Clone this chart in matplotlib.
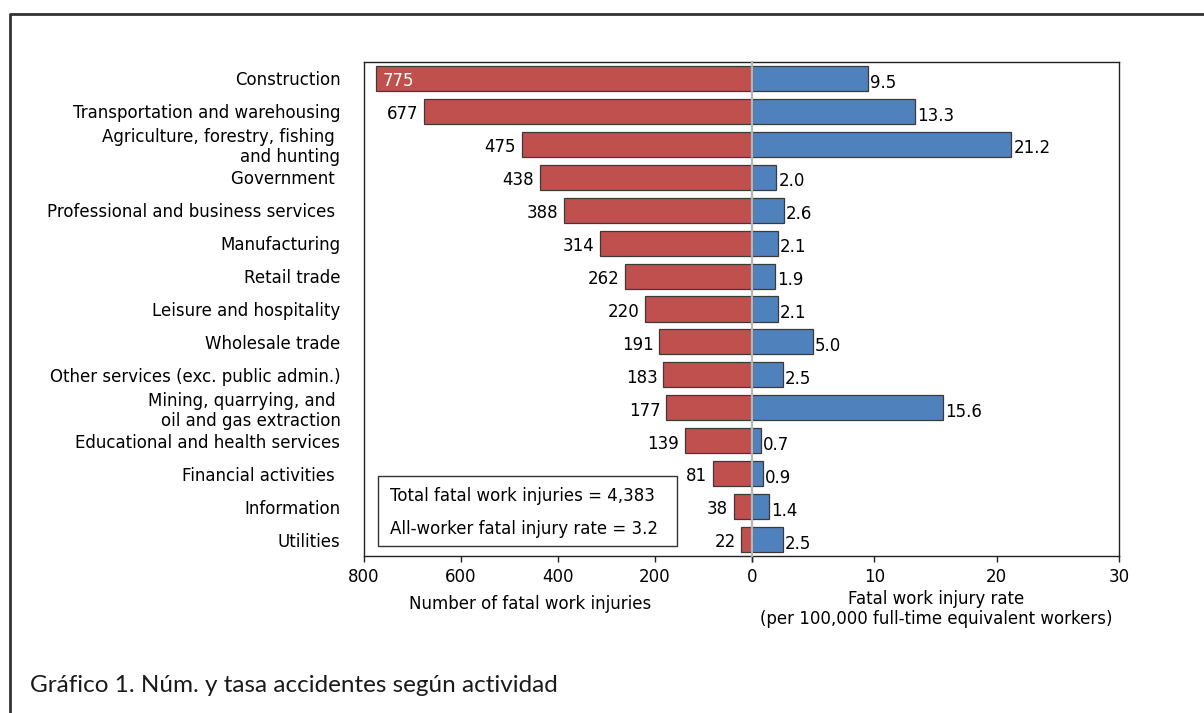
import numpy as np
import matplotlib
matplotlib.use('Agg')
import matplotlib.pyplot as plt
from matplotlib.patches import Rectangle
from matplotlib.lines import Line2D

categories = ["Construction", "Transportation and warehousing",
              "Agriculture, forestry, fishing \nand hunting", "Government ",
              "Professional and business services ", "Manufacturing",
              "Retail trade", "Leisure and hospitality", "Wholesale trade",
              "Other services (exc. public admin.)",
              "Mining, quarrying, and \noil and gas extraction",
              "Educational and health services", "Financial activities ",
              "Information", "Utilities"]
counts = [775, 677, 475, 438, 388, 314, 262, 220, 191, 183, 177, 139, 81, 38, 22]
rates = [9.5, 13.3, 21.2, 2.0, 2.6, 2.1, 1.9, 2.1, 5.0, 2.5, 15.6, 0.7, 0.9, 1.4, 2.5]
count_ticks = [800, 600, 400, 200, 0]
count_labels = ["800", "600", "400", "200", ""]
rate_ticks = [0, 10, 20, 30]
rate_labels = ["0", "10", "20", "30"]

W, H = 1204, 713
RED = '#C0504D'
BLUE = '#4F81BD'
EDGE = '#3a3a3a'
FS = 12

plt.rcParams['font.family'] = ['DejaVu Sans']

fig = plt.figure(figsize=(W / 100, H / 100), dpi=100)

def fx(px):
    return px / W

def fy(py):
    return 1 - py / H

top, bot = 62, 556
xl0, x0, xr1 = 364, 752, 1119
axL = fig.add_axes([fx(xl0), fy(bot), fx(x0 - xl0), (bot - top) / H])
axR = fig.add_axes([fx(x0), fy(bot), fx(xr1 - x0), (bot - top) / H], sharey=axL)

y = np.arange(len(categories))

axL.barh(y, counts, height=0.76, color=RED, edgecolor=EDGE, linewidth=0.9, zorder=2)
axR.barh(y, rates, height=0.76, color=BLUE, edgecolor=EDGE, linewidth=0.9, zorder=2)

axL.set_xlim(800, 0)
axR.set_xlim(0, 30)
axL.set_ylim(len(categories) - 0.5, -0.5)

# spines
axL.spines['right'].set_visible(False)
axR.spines['left'].set_visible(False)
for ax in (axL, axR):
    for s in ax.spines.values():
        s.set_color('#222222')
        s.set_linewidth(1.0)

axR.axvline(0, color='#b5b5b5', lw=1.6, zorder=4, clip_on=False)

# y labels
axL.set_yticks(y)
axL.set_yticklabels(categories, fontsize=FS, ha='right', multialignment='right',
                    linespacing=1.15)
axL.tick_params(axis='y', length=0, pad=17)
axR.tick_params(axis='y', length=0, labelleft=False, left=False)

axL.set_xticks(count_ticks)
axL.set_xticklabels(count_labels, fontsize=FS)
axR.set_xticks(rate_ticks)
axR.set_xticklabels(rate_labels, fontsize=FS)
for ax in (axL, axR):
    ax.tick_params(axis='x', direction='out', length=4, width=1, pad=5, color='#222222')

# value labels
for i, v in enumerate(counts):
    if v > 700:
        axL.annotate(str(v), xy=(v, i), xytext=(5, -2), textcoords='offset points',
                     ha='left', va='center', fontsize=FS, color='white', zorder=5)
    else:
        axL.annotate(str(v), xy=(v, i), xytext=(-4, -2), textcoords='offset points',
                     ha='right', va='center', fontsize=FS, color='black', zorder=5)
for i, r in enumerate(rates):
    axR.annotate(f"{r:.1f}", xy=(r, i), xytext=(1.5, -3), textcoords='offset points',
                 ha='left', va='center', fontsize=FS, color='black', zorder=5)

# axis titles
fig.text(fx(530), fy(604), "Number of fatal work injuries", ha='center', va='center', fontsize=FS)
fig.text(fx(936), fy(609), "Fatal work injury rate\n(per 100,000 full-time equivalent workers)",
         ha='center', va='center', fontsize=FS, linespacing=1.2)

# summary box
fig.patches.append(Rectangle((fx(378), fy(546)), fx(677) - fx(378), fy(476) - fy(546),
                             transform=fig.transFigure, fill=False, edgecolor='#333333',
                             linewidth=1.0, zorder=10))
fig.text(fx(390), fy(496), "Total fatal work injuries = 4,383", ha='left', va='center', fontsize=FS)
fig.text(fx(390), fy(529), "All-worker fatal injury rate = 3.2", ha='left', va='center', fontsize=FS)

# outer frame
fig.lines.append(Line2D([fx(10), fx(10), fx(1210)], [fy(720), fy(14), fy(14)],
                        transform=fig.transFigure, color='#333333', linewidth=2.0))

# caption
fig.text(fx(30), fy(686), "Gráfico 1. Núm. y tasa accidentes según actividad",
         ha='left', va='center', fontsize=17.5, family=['Lato', 'DejaVu Sans'], color='#1a1a1a')

fig.savefig('out.png', dpi=100)
